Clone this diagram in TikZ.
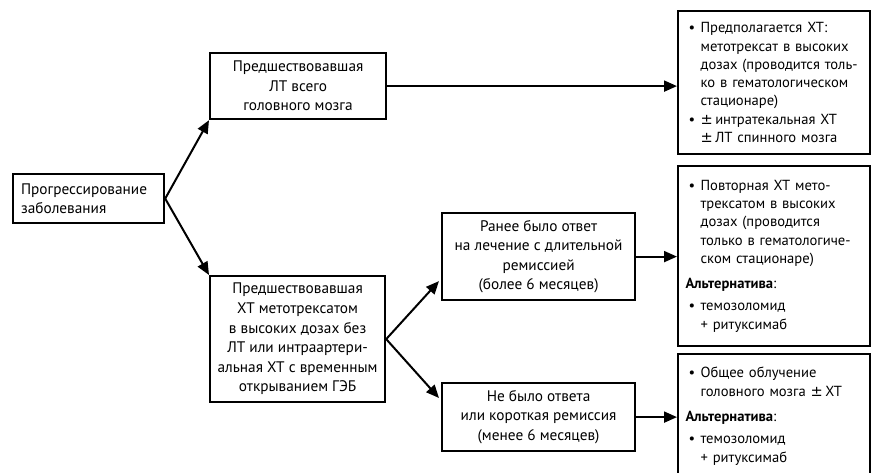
\documentclass[tikz,border=0pt]{standalone}
\usepackage{fontspec}
\setmainfont{PT Sans}
\newfontfamily\pmfont{DejaVu Sans}
\usetikzlibrary{arrows.meta,calc,positioning}
\newcommand{\bl}{\hspace*{6pt}\makebox[12pt][l]{•}}
\newcommand{\ind}{\hspace*{18pt}}
\newcommand{\plmi}{{\pmfont ±}\,}

\begin{document}
\begin{tikzpicture}[x=1pt,y=-1pt,% one unit = one pixel of the layout
		every node/.style={
			rectangle,draw=black,line width=2.2pt,
			font=\fontsize{15.3}{19.6}\selectfont,
			inner sep=4pt
		},
		>={Triangle[length=13pt,width=11pt]},
		every edge/.style={draw,line width=2pt},
		list/.style={align=left,anchor=north west,minimum width=192pt,text width=183pt,
			font=\fontsize{14.6}{18.3}\selectfont,inner xsep=0pt,inner ysep=6pt}
	]
	\path[use as bounding box,clip] (0,0) rectangle (871,472);
	\node[align=left,anchor=north west,minimum width=151pt,minimum height=49pt,text width=135pt](R1) at (12,173) {Прогрессирование\\заболевания};
	\node[align=center,anchor=north west,minimum width=176pt,minimum height=66pt](R2) at (209,52) {Предшествовавшая\\ЛТ всего\\головного мозга};
	\node[align=center,anchor=north west,minimum width=175pt,minimum height=126pt](R3) at (209,275) {Предшествовавшая\\ХТ метотрексатом\\в высоких дозах без\\ЛТ или интраартери-\\альная ХТ с временным\\открыванием ГЭБ};
	\node[align=center,anchor=north west,minimum width=193pt,minimum height=87pt](R4) at (441,212) {Ранее было ответ\\на лечение с длительной\\ремиссией\\(более 6 месяцев)};
	\node[align=center,anchor=north west,minimum width=193pt,minimum height=68pt](R5) at (441,382) {Не было ответа\\или короткая ремиссия\\(менее 6 месяцев)};
	\node[list,minimum height=143pt](R6) at (677,10) {\bl Предполагается ХТ:\\\ind метотрексат в высоких\\\ind дозах (проводится толь-\\\ind ко в гематологическом\\\ind стационаре)\\\bl \plmi интратекальная ХТ\\\ind \plmi ЛТ спинного мозга};
	\node[list,minimum height=180pt](R7) at (677,165) {\bl Повторная ХТ мето-\\\ind трексатом в высоких\\\ind дозах (проводится\\\ind только в гематологиче-\\\ind ском стационаре)\\[7pt]\hspace*{3pt}\textbf{Альтернатива}:\\[4pt]\bl темозоломид\\\ind + ритуксимаб};
	\node[list,minimum height=124pt](R8) at (677,353) {\bl Общее облучение\\\ind головного мозга \plmi ХТ\\[7pt]\hspace*{3pt}\textbf{Альтернатива}:\\[4pt]\bl темозоломид\\\ind + ритуксимаб};
	\path[->]
	(R1.east) edge [] (R2.south west)
	(R1.east) edge [] (R3.north west)
	(R3.east) edge [shorten >=3pt] ($(R4.south west)!0.25!(R4.north west)$)
	(R3.east) edge [shorten >=3pt] ($(R5.north west)!0.26!(R5.south west)$)
	(R2.east) edge [] (R2.east -| R6.west)
	(R4.east) edge [] (R4.east -| R7.west)
	(R5.east) edge [] (R5.east -| R8.west)
	;
\end{tikzpicture}
\end{document}
